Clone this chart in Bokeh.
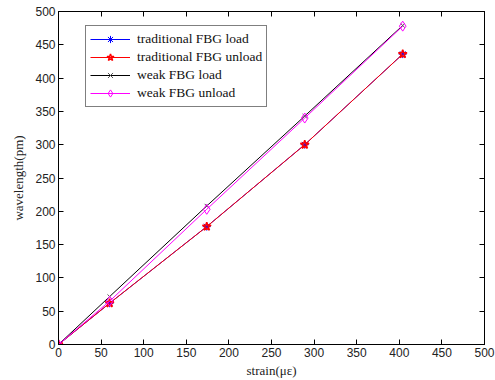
from bokeh.plotting import figure
from bokeh.models import LinearAxis, Range1d, Legend, LegendItem, FixedTicker
from bokeh.embed import file_html
from bokeh.resources import INLINE

strain = [0, 60, 174, 289, 404]
trad_load = [0, 62, 177, 300, 436]
trad_unload = [0, 62, 177, 300, 436]
weak_load = [0, 72, 208, 343, 479]
weak_unload = [0, 65, 203, 340, 478]

x_ticks = [0, 50, 100, 150, 200, 250, 300, 350, 400, 450, 500]
y_ticks = [0, 50, 100, 150, 200, 250, 300, 350, 400, 450, 500]

p = figure(width=495, height=380, output_backend="svg", toolbar_location=None,
           x_range=Range1d(0, 500), y_range=Range1d(0, 500),
           min_border_left=58, min_border_right=11, min_border_top=11, min_border_bottom=36)
p.grid.visible = False
p.outline_line_color = "black"
p.outline_line_width = 1
p.background_fill_color = "white"
p.border_fill_color = "white"

def style_axis(ax, labels=True):
    ax.ticker = FixedTicker(ticks=x_ticks)
    ax.major_tick_in = 5
    ax.major_tick_out = 0
    ax.minor_tick_in = 0
    ax.minor_tick_out = 0
    ax.axis_line_color = "black"
    ax.major_tick_line_color = "black"
    ax.major_label_text_font = "Liberation Sans"
    ax.major_label_text_font_size = "12px"
    ax.major_label_text_color = "#222222"
    ax.major_label_standoff = 3
    if not labels:
        ax.major_label_text_font_size = "0px"
        ax.major_label_text_alpha = 0

style_axis(p.xaxis[0])
style_axis(p.yaxis[0])
p.yaxis[0].ticker = FixedTicker(ticks=y_ticks)
p.xaxis[0].axis_label = "strain(\u03bc\u03b5)"
p.yaxis[0].axis_label = "wavelength(pm)"
for ax in (p.xaxis[0], p.yaxis[0]):
    ax.axis_label_text_font = "Liberation Serif"
    ax.axis_label_text_font_size = "13px"
    ax.axis_label_text_font_style = "normal"
    ax.axis_label_text_color = "#222222"
p.xaxis[0].axis_label_standoff = 3
p.yaxis[0].axis_label_standoff = 6

top = LinearAxis()
style_axis(top, labels=False)
top.ticker = FixedTicker(ticks=x_ticks)
right = LinearAxis()
style_axis(right, labels=False)
right.ticker = FixedTicker(ticks=y_ticks)
p.add_layout(top, "above")
p.add_layout(right, "right")

r1 = p.line(strain, trad_load, line_color="blue", line_width=1)
m1 = p.scatter(strain, trad_load, marker="asterisk", size=8, line_color="blue", line_width=1)
r2 = p.line(strain, trad_unload, line_color="red", line_width=1)
m2 = p.scatter(strain, trad_unload, marker="star", size=9, line_color="red", fill_color=None, line_width=1.5)
r3 = p.line(strain, weak_load, line_color="black", line_width=1)
m3 = p.scatter(strain, weak_load, marker="x", size=6, line_color="#555555", line_width=1)
r4 = p.line(strain, weak_unload, line_color="magenta", line_width=1)
m4 = p.scatter(strain, weak_unload, marker="diamond", size=10, line_color="magenta", fill_color=None, line_width=1)

legend = Legend(items=[
    LegendItem(label="traditional FBG load", renderers=[r1, m1]),
    LegendItem(label="traditional FBG unload", renderers=[r2, m2]),
    LegendItem(label="weak FBG load", renderers=[r3, m3]),
    LegendItem(label="weak FBG unload", renderers=[r4, m4]),
], location=(27, 237))
legend.border_line_color = "black"
legend.border_line_width = 1
legend.background_fill_color = "white"
legend.background_fill_alpha = 1
legend.label_text_font = "Liberation Serif"
legend.label_text_font_size = "13.5px"
legend.label_text_color = "#111111"
legend.glyph_width = 40
legend.glyph_height = 18
legend.label_height = 18
legend.label_standoff = 7
legend.spacing = 0
legend.padding = 4
legend.margin = 0
p.add_layout(legend, "center")

open("out.html", "w").write(file_html(p, INLINE))
